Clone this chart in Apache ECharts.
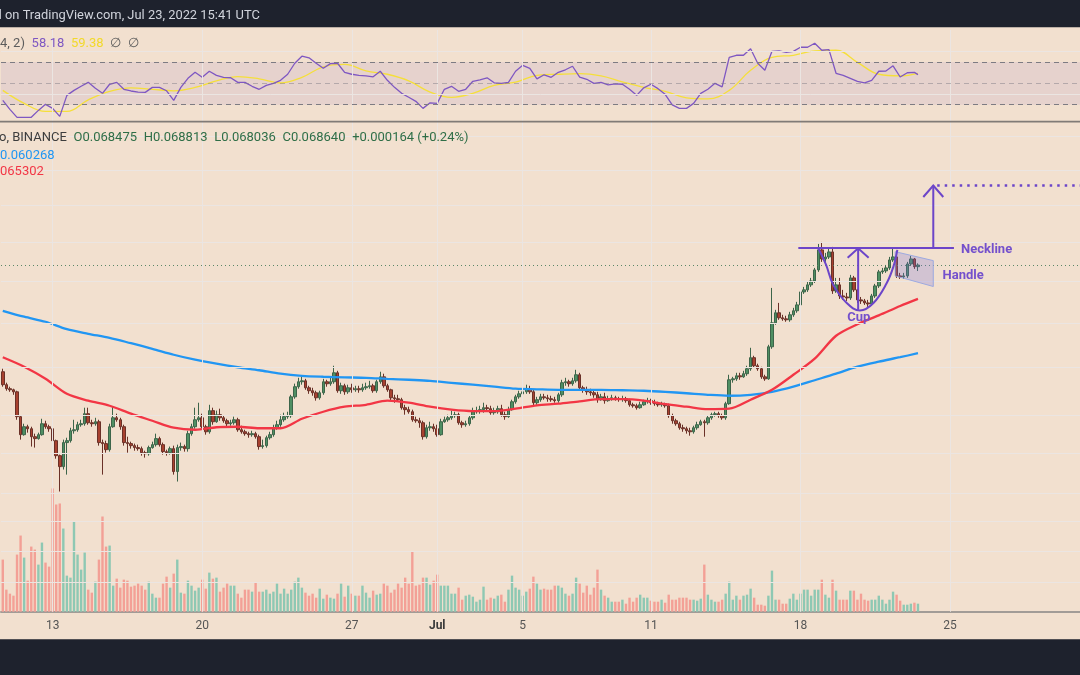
<!DOCTYPE html>
<html><head><meta charset="utf-8">
<script src="https://cdn.jsdelivr.net/npm/echarts@6.0.0/dist/echarts.min.js"></script>
<style>html,body{margin:0;padding:0;background:#1e222d;}#c{width:1080px;height:675px;}</style>
</head><body><div id="c"></div>
<script>
// ETH/BTC 4h, BINANCE — prices in units of 0.0001 BTC
const firstSlotUTC = Date.UTC(2022, 5, 10, 16);
const slotHours = 4;
const slotCount = 303;
const tickDates = ['2022-06-13','2022-06-20','2022-06-27','2022-07-01','2022-07-05','2022-07-11','2022-07-18','2022-07-25'];
const tickLabels = ['13','20','27','Jul','5','11','18','25'];
const priceGridLines = [830,790,750,710,670,630,590,550,520,490,470,450,430];
const rsiLevels = [70,50,30];
const rsiGridLines = [80,40];

// [open, close, low, high]
const candles = [
[586.4,575.3,573.6,589.0],[575.3,571.9,570.2,577.0],[571.9,571.0,569.3,573.6],[571.0,569.3,566.8,571.9],[569.3,548.8,546.3,570.2],
[548.8,534.4,530.5,549.6],[534.4,540.7,533.6,543.1],[540.7,539.1,536.0,542.3],[539.1,532.8,525.1,540.7],[532.8,531.3,524.3,535.2],
[531.3,534.4,530.5,536.0],[534.4,543.1,533.6,547.1],[543.1,540.7,539.1,545.5],[540.7,539.1,536.7,542.3],[539.1,529.7,528.2,540.7],
[529.7,518.1,515.8,530.5],[518.1,509.8,491.4,518.9],[509.8,528.2,507.6,530.5],[528.2,529.7,503.8,532.0],[529.7,537.5,528.2,539.9],
[537.5,538.3,535.2,546.3],[538.3,542.3,536.7,544.7],[542.3,543.1,540.7,546.3],[543.1,551.2,541.5,556.1],[551.2,543.9,542.3,556.1],
[543.9,543.1,540.7,546.3],[543.1,544.7,541.5,547.9],[544.7,528.2,525.8,546.3],[528.2,527.4,503.8,530.5],[527.4,522.7,520.4,529.7],
[522.7,540.7,521.2,543.1],[540.7,547.9,539.9,556.9],[547.9,546.3,544.7,551.2],[546.3,540.7,538.3,547.9],[540.7,528.2,525.8,542.3],
[528.2,527.4,520.4,532.8],[527.4,525.8,523.5,528.9],[525.8,524.3,521.9,527.4],[524.3,523.5,521.9,526.6],[523.5,520.4,518.1,525.1],
[520.4,519.6,516.6,521.9],[519.6,524.3,518.1,525.8],[524.3,526.6,523.5,528.9],[526.6,531.3,525.1,535.2],[531.3,526.6,525.1,532.8],
[526.6,521.2,518.9,528.2],[521.2,520.4,518.1,522.7],[520.4,523.5,518.9,525.1],[523.5,506.1,503.8,525.8],[506.1,524.3,498.7,526.6],
[524.3,525.1,521.9,528.2],[525.1,523.5,521.2,526.6],[523.5,535.2,521.2,537.5],[535.2,540.7,533.6,543.1],[540.7,546.3,539.1,556.1],
[546.3,547.9,544.7,560.2],[547.9,540.7,538.3,551.2],[540.7,536.7,534.4,542.3],[536.7,553.7,535.2,558.5],[553.7,544.7,542.3,556.1],
[544.7,550.4,543.9,553.7],[550.4,547.9,545.5,555.3],[547.9,545.5,543.9,549.6],[545.5,543.1,540.7,547.1],[543.1,543.9,541.5,546.3],
[543.9,546.3,542.3,548.8],[546.3,538.3,536.7,547.9],[538.3,536.7,535.2,541.5],[536.7,535.2,533.6,538.3],[535.2,534.4,532.0,536.7],
[534.4,535.2,532.8,537.5],[535.2,532.8,531.3,536.7],[532.8,525.1,522.7,534.4],[525.1,525.8,523.5,530.5],[525.8,532.0,524.3,533.6],
[532.0,534.4,530.5,536.7],[534.4,539.9,532.8,542.3],[539.9,542.3,538.3,545.5],[542.3,546.3,540.7,550.4],[546.3,548.8,544.7,552.0],
[548.8,549.6,547.1,552.8],[549.6,565.1,547.9,566.8],[565.1,573.6,563.5,576.2],[573.6,577.8,571.9,581.2],[577.8,578.6,575.3,583.0],
[578.6,572.7,571.0,580.3],[572.7,570.2,567.6,574.4],[570.2,568.5,566.0,572.7],[568.5,564.3,561.9,570.2],[564.3,568.5,562.7,570.2],
[568.5,577.8,566.8,580.3],[577.8,576.1,573.6,579.5],[576.1,577.8,574.4,581.2],[577.8,585.5,576.1,591.6],[585.5,570.2,568.5,587.2],
[570.2,574.4,567.6,577.0],[574.4,569.3,566.8,576.1],[569.3,572.7,567.6,575.3],[572.7,571.0,568.5,576.1],[571.0,571.9,569.3,574.4],
[571.9,571.0,568.5,574.4],[571.0,572.7,569.3,576.1],[572.7,573.6,571.0,577.0],[573.6,574.4,571.9,578.6],[574.4,570.2,568.5,576.1],
[570.2,577.8,568.5,579.5],[577.8,582.0,576.1,586.4],[582.0,574.4,572.7,584.7],[574.4,571.0,569.3,576.1],[571.0,564.3,561.9,571.9],
[564.3,563.5,560.2,566.8],[563.5,562.7,561.0,566.8],[562.7,556.1,554.5,564.3],[556.1,554.5,550.4,558.5],[554.5,552.8,551.2,556.9],
[552.8,546.3,544.7,554.5],[546.3,545.5,543.9,548.8],[545.5,543.9,539.9,547.9],[543.9,532.8,530.5,545.5],[532.8,539.9,531.3,542.3],
[539.9,540.7,537.5,544.7],[540.7,539.1,536.7,543.1],[539.1,534.4,532.8,542.3],[534.4,544.7,533.6,547.1],[544.7,546.3,543.9,548.8],
[546.3,547.9,544.7,550.4],[547.9,549.6,546.3,553.7],[549.6,550.4,547.9,552.8],[550.4,543.9,542.3,552.0],[543.9,542.3,539.9,545.5],
[542.3,543.1,540.7,545.5],[543.1,547.9,541.5,549.6],[547.9,552.8,546.3,556.1],[552.8,553.7,551.2,556.9],[553.7,554.5,551.2,557.7],
[554.5,556.1,552.0,560.2],[556.1,555.3,552.8,558.5],[555.3,552.0,550.4,557.7],[552.0,552.8,550.4,556.1],[552.8,555.3,551.2,557.7],
[555.3,550.4,548.8,558.5],[550.4,548.8,546.3,552.8],[548.8,554.5,547.9,556.9],[554.5,561.0,553.7,562.7],[561.0,565.1,559.4,566.8],
[565.1,567.6,563.5,570.2],[567.6,569.3,566.0,572.7],[569.3,571.9,567.6,575.3],[571.9,569.3,567.6,574.4],[569.3,560.2,557.7,571.0],
[560.2,562.7,558.5,565.1],[562.7,565.1,561.0,567.6],[565.1,564.3,562.7,567.6],[564.3,563.5,561.0,566.8],[563.5,562.7,561.0,566.0],
[562.7,561.9,560.2,565.1],[561.9,566.8,560.2,568.5],[566.8,577.0,565.1,579.5],[577.0,577.8,574.4,581.2],[577.8,576.1,573.6,579.5],
[576.1,578.6,574.4,581.2],[578.6,583.8,577.0,588.1],[583.8,572.7,571.0,585.5],[572.7,571.0,568.5,574.4],[571.0,569.3,566.8,573.6],
[569.3,568.5,566.0,571.9],[568.5,566.8,564.3,570.2],[566.8,562.7,560.2,569.3],[562.7,565.1,561.9,567.6],[565.1,561.9,559.4,568.5],
[561.9,563.5,561.0,566.0],[563.5,564.3,561.9,566.8],[564.3,563.5,561.9,566.0],[563.5,563.1,561.0,565.1],[563.1,563.5,561.0,566.0],
[563.5,561.9,560.2,565.1],[561.9,558.5,556.9,563.5],[558.5,557.7,556.1,560.2],[557.7,556.1,554.5,559.4],[556.1,558.5,555.3,561.0],
[558.5,561.0,557.7,562.7],[561.0,561.9,559.4,564.3],[561.9,560.2,558.5,563.5],[560.2,559.4,557.7,562.7],[559.4,558.5,556.9,561.0],
[558.5,559.4,556.9,561.0],[559.4,557.7,556.1,560.2],[557.7,549.6,547.9,559.4],[549.6,545.5,543.1,551.2],[545.5,543.1,541.5,547.1],
[543.1,539.9,538.3,544.7],[539.9,539.1,536.7,542.3],[539.1,537.5,535.2,540.7],[537.5,536.7,533.6,539.9],[536.7,539.9,535.2,541.5],
[539.9,542.3,538.3,544.7],[542.3,544.7,541.5,546.3],[544.7,543.9,532.8,546.3],[543.9,547.9,542.3,549.6],[547.9,550.4,546.3,552.0],
[550.4,551.2,548.8,552.8],[551.2,549.6,547.9,552.8],[549.6,547.9,546.3,551.2],[547.9,559.4,546.3,561.0],[559.4,579.5,558.5,583.8],
[579.5,580.3,577.0,582.0],[580.3,582.9,578.6,585.5],[582.9,582.0,579.5,585.5],[582.0,584.7,581.2,587.2],[584.7,589.0,582.9,591.6],
[589.0,598.7,587.2,607.5],[598.7,591.6,589.9,600.4],[591.6,589.0,587.2,593.4],[589.0,582.0,580.3,590.7],[582.0,580.3,578.6,583.8],
[580.3,608.4,579.5,610.2],[608.4,630.3,606.6,663.6],[630.3,639.7,628.5,642.5],[639.7,635.0,633.1,649.1],[635.0,634.0,632.2,637.8],
[634.0,633.1,631.3,636.9],[633.1,637.8,631.3,640.6],[637.8,641.6,635.9,644.4],[641.6,647.2,639.7,650.1],[647.2,659.7,645.3,668.5],
[659.7,661.7,657.8,664.6],[661.7,666.6,659.7,669.5],[666.6,670.5,664.6,673.5],[670.5,681.5,668.5,683.5],[681.5,701.9,679.5,708.1],
[701.9,692.6,689.6,710.2],[692.6,694.6,689.6,698.8],[694.6,699.8,692.6,702.9],[699.8,660.7,657.8,705.0],[660.7,666.6,658.8,673.5],
[666.6,655.8,652.9,673.5],[655.8,654.8,652.0,661.7],[654.8,653.9,651.0,658.8],[653.9,673.5,652.0,676.5],[673.5,661.7,659.7,675.5],
[661.7,652.0,649.1,662.7],[652.0,651.0,648.1,654.8],[651.0,649.1,647.2,652.9],[649.1,648.1,645.3,652.0],[648.1,655.8,646.2,657.8],
[655.8,665.6,653.9,667.6],[665.6,679.5,663.6,681.5],[679.5,680.5,677.5,683.5],[680.5,683.5,678.5,686.5],[683.5,691.6,681.5,694.7],
[691.6,694.7,689.6,703.9],[694.7,675.5,673.5,697.8],[675.5,674.5,672.5,678.5],[674.5,675.5,672.5,678.5],[675.5,687.5,673.5,689.6],
[687.5,692.6,685.5,695.7],[692.6,684.75,682.5,693.6],[684.75,686.40,680.36,688.13]
];

// volume (K ETH)
const volumes = [
52,22,18,16,57,76,54,31,65,62,47,69,49,45,123,107,108,83,36,34,
90,57,42,59,22,19,30,52,95,65,66,26,33,24,32,31,25,26,28,26,
22,30,18,14,14,28,35,24,38,52,19,18,31,26,21,24,32,23,39,33,
34,20,24,28,26,26,18,14,22,22,20,29,20,20,22,18,20,28,18,23,
18,22,30,34,24,19,16,18,14,23,13,17,14,13,18,28,15,26,18,16,
16,26,19,14,21,17,18,28,26,19,22,28,24,34,28,60,26,27,34,34,
27,31,37,26,26,26,18,18,24,12,16,17,15,10,12,25,12,14,13,16,
17,10,22,36,24,22,16,20,23,35,28,22,23,22,22,26,26,24,18,16,
18,34,28,19,26,17,24,42,22,16,14,10,10,10,12,8,14,10,14,17,
14,14,11,10,10,12,9,17,12,12,14,14,14,12,12,11,13,47,17,12,
10,10,12,18,30,12,16,12,16,17,23,14,7,7,6,16,41,12,12,8,
8,13,18,12,18,22,22,16,22,22,32,17,14,32,21,12,12,12,21,21,
12,18,12,11,12,12,16,12,8,12,20,17,11,7,7,8,9,8
];

// [slot, value]
const rsiPoints = [[0,34.0],[2,25.6],[4,18.1],[6,18.1],[8,18.1],[10,24.6],[12,30.3],[14,26.5],[16,19.0],[18,38.7],[20,43.4],[22,47.2],[24,50.9],[26,45.3],[28,40.6],[30,49.1],[32,50.9],[34,44.4],[36,42.8],[38,41.8],[40,41.5],[42,46.2],[44,46.2],[46,43.0],[48,34.0],[50,46.2],[52,54.7],[54,60.3],[56,55.6],[58,61.3],[60,57.5],[62,55.6],[64,55.2],[66,50.9],[68,50.9],[70,47.2],[72,44.4],[74,48.1],[76,50.0],[78,52.8],[80,58.5],[82,68.8],[84,75.4],[86,73.9],[88,68.8],[90,64.1],[92,68.5],[94,68.8],[96,60.3],[98,58.5],[100,57.5],[102,57.0],[104,56.1],[106,61.3],[108,52.8],[110,46.2],[112,40.6],[114,36.9],[116,33.1],[118,26.5],[120,31.7],[122,31.2],[124,44.4],[126,47.2],[128,42.5],[130,44.4],[132,51.9],[134,53.3],[136,55.2],[138,50.5],[140,50.0],[142,50.9],[144,61.3],[146,66.9],[148,64.1],[150,54.2],[152,58.0],[154,55.6],[156,60.3],[158,62.7],[160,66.0],[162,55.9],[164,53.8],[166,50.0],[168,50.9],[170,48.6],[172,49.5],[174,49.1],[176,44.4],[178,38.7],[180,45.8],[182,49.1],[184,45.0],[186,39.7],[188,29.8],[190,26.5],[192,26.5],[194,31.2],[196,40.6],[198,44.4],[200,50.0],[202,46.7],[204,74.4],[206,76.3],[208,76.3],[210,82.4],[212,68.8],[214,62.2],[216,80.0],[218,80.5],[220,79.1],[222,80.0],[224,83.8],[226,83.8],[228,87.6],[230,81.0],[232,81.6],[234,59.4],[236,57.5],[238,54.7],[240,51.9],[242,50.5],[244,52.8],[246,61.3],[248,61.5],[250,66.4],[252,55.9],[254,59.9],[256,60.3],[257,58.18]];
const rsiMaPoints = [[0,43.4],[6,31.2],[12,23.7],[18,23.7],[24,34.5],[30,42.5],[36,45.8],[42,44.4],[48,43.0],[54,46.2],[60,52.3],[66,56.3],[72,54.2],[78,50.3],[84,55.6],[90,65.5],[96,67.8],[102,61.7],[108,58.5],[114,52.3],[120,41.8],[126,36.9],[132,40.6],[138,48.1],[144,51.2],[150,57.5],[156,58.5],[162,59.1],[168,57.0],[174,51.4],[180,46.2],[186,42.5],[192,36.4],[198,35.4],[204,43.4],[210,62.2],[216,74.4],[222,76.3],[228,80.5],[234,81.0],[240,69.7],[246,58.5],[252,57.0],[257,59.38]];
const ma50Points = [[0,599.1],[6,590.8],[12,580.4],[18,567.6],[24,561.9],[30,557.7],[36,551.2],[42,545.5],[48,539.9],[54,538.3],[60,540.3],[66,540.7],[72,539.5],[78,539.5],[84,547.1],[90,552.8],[96,556.9],[102,558.5],[108,561.9],[114,560.2],[120,556.9],[126,554.5],[132,553.3],[138,553.3],[144,555.3],[150,558.1],[156,559.4],[162,561.4],[168,563.1],[174,563.1],[180,561.9],[186,559.0],[192,556.9],[198,554.9],[204,555.3],[210,562.7],[216,571.0],[222,583.8],[228,597.8],[234,618.4],[240,629.0],[246,637.3],[252,646.2],[257,653.02]];
const ma200Points = [[0,641.6],[6,636.0],[12,631.3],[18,624.4],[24,620.2],[30,616.5],[36,611.6],[42,606.6],[48,601.3],[54,596.9],[60,593.4],[66,590.3],[72,587.7],[78,584.7],[84,582.9],[90,582.1],[96,581.6],[102,581.2],[108,580.3],[114,579.5],[120,578.6],[126,576.9],[132,575.3],[138,573.6],[144,571.9],[150,571.4],[156,571.0],[162,571.0],[168,571.0],[174,570.6],[180,570.2],[186,569.3],[192,568.1],[198,566.8],[204,566.0],[210,566.8],[216,569.3],[222,573.6],[228,579.1],[234,584.7],[240,590.8],[246,595.2],[252,599.1],[257,602.68]];

// pattern drawing anchors: [slot, price]
const necklinePrice = 703.9;
const necklineSpan = [223.4, 267.1];
const targetPrice = 771.9;
const targetArrowSlot = 261.3;
const targetLineSpan = [262.4, 302.5];
const cupCurve = [[229.0,703.6],[231.2,686.5],[233.2,666.6],[237.0,649.0],[240.7,641.8],[244.5,649.0],[248.2,668.2],[250.1,684.8],[251.2,701.9]];
const cupArrow = {slot: 240.2, from: 642.5, to: 703.6};
const handleChannel = [[250.6,700.1],[261.3,690.9],[261.3,665.0],[250.6,675.5]];
const patternLabels = [
  {text:'Neckline', slot:269.1, price:702.4, align:'left'},
  {text:'Handle', slot:263.9, price:675.2, align:'left'},
  {text:'Cup', slot:240.4, price:635.3, align:'center'}
];

const categories = Array.from({length: slotCount}, (_, k) =>
  new Date(firstSlotUTC + k * slotHours * 3600000).toISOString().slice(0, 13));
const tickIdx = tickDates.map(d => categories.indexOf(d + 'T00'));
const tickSet = new Set(tickIdx);

const chart = echarts.init(document.getElementById('c'));
const gridColor = '#ebe5e2';
const upVol = '#8ec8b3', downVol = '#f3a096';
const volumeData = volumes.map((v, i) => ({value: v, itemStyle: {color: candles[i][1] >= candles[i][0] ? upVol : downVol}}));
const vLines = tickIdx.map(i => ({xAxis: categories[i]}));
const quiet = {silent: true, symbol: ['none','none'], label: {show: false}, animation: false};

const option = {
  animation: false,
  backgroundColor: '#f2e0cf',
  textStyle: {fontFamily: 'Roboto, "Noto Sans", sans-serif'},
  grid: [
    {left: 1, right: 0, top: 122, bottom: 63.3, containLabel: false, outerBoundsMode: 'none'},
    {left: 1, right: 0, top: 30, height: 91.7, containLabel: false, outerBoundsMode: 'none'}
  ],
  xAxis: [
    {type: 'category', gridIndex: 0, data: categories, boundaryGap: true,
      axisLine: {show: true, lineStyle: {color: '#a29c97', width: 2}},
      axisTick: {show: false}, splitLine: {show: false},
      axisLabel: {interval: (i) => tickSet.has(i), margin: 8, color: '#555', fontSize: 12,
        formatter: (v, i) => { const k = tickIdx.indexOf(i); const t = k >= 0 ? tickLabels[k] : ''; return /^[A-Z]/.test(t) ? '{b|' + t + '}' : t; },
        rich: {b: {fontWeight: 'bold', color: '#3a3a3a', fontSize: 12}}}},
    {type: 'category', gridIndex: 1, data: categories, boundaryGap: true, show: false}
  ],
  yAxis: [
    {type: 'log', gridIndex: 0, min: 411.55, max: 847.7, show: false},
    {type: 'value', gridIndex: 0, min: 0, max: 488.7, show: false},
    {type: 'value', gridIndex: 1, min: 14, max: 100, show: false}
  ],
  series: [
    {type: 'line', xAxisIndex: 0, yAxisIndex: 0, data: [], z: 0,
      markLine: Object.assign({}, quiet, {lineStyle: {color: gridColor, width: 1, type: 'solid'},
        data: priceGridLines.map(p => ({yAxis: p})).concat(vLines)})},
    {type: 'line', xAxisIndex: 1, yAxisIndex: 2, data: [], z: 0,
      markArea: {silent: true, itemStyle: {color: 'rgba(126,87,194,0.1)'}, data: [[{yAxis: 30}, {yAxis: 70}]]},
      markLine: Object.assign({}, quiet, {lineStyle: {color: gridColor, width: 1, type: 'solid'},
        data: rsiGridLines.map(p => ({yAxis: p})).concat(vLines)})},
    {type: 'bar', xAxisIndex: 0, yAxisIndex: 1, data: volumeData, barWidth: 2.4, z: 1},
    {type: 'candlestick', xAxisIndex: 0, yAxisIndex: 0, data: candles, barWidth: 3, z: 2,
      itemStyle: {color: '#4f8f63', color0: '#a8412f', borderColor: '#3d654a', borderColor0: '#6a3128', borderWidth: 1},
      markLine: Object.assign({}, quiet, {lineStyle: {color: '#4a7d5c', width: 1, type: [1, 3], opacity: 0.9},
        data: [{yAxis: candles[candles.length - 1][1]}]})},
    {type: 'line', xAxisIndex: 0, yAxisIndex: 0, data: ma200Points, showSymbol: false, smooth: 0.3, z: 3,
      lineStyle: {color: '#2196f3', width: 2.3}},
    {type: 'line', xAxisIndex: 0, yAxisIndex: 0, data: ma50Points, showSymbol: false, smooth: 0.3, z: 3,
      lineStyle: {color: '#f23645', width: 2.3}},
    {type: 'line', xAxisIndex: 1, yAxisIndex: 2, data: rsiMaPoints, showSymbol: false, smooth: 0.4, z: 3,
      lineStyle: {color: '#f5df3a', width: 1.3}},
    {type: 'line', xAxisIndex: 1, yAxisIndex: 2, data: rsiPoints, showSymbol: false, z: 4,
      lineStyle: {color: '#7e57c2', width: 1.3},
      markLine: Object.assign({}, quiet, {data: rsiLevels.map(v => ({yAxis: v, lineStyle: {color: v === 50 ? 'rgba(120,118,128,0.45)' : '#7d7b82', width: 1, type: [5, 4]}}))})}
  ]
};
chart.setOption(option);

function toPx(slot, price) {
  const s0 = Math.floor(slot), f = slot - s0;
  const a = chart.convertToPixel({xAxisIndex: 0, yAxisIndex: 0}, [s0, price]);
  const b = chart.convertToPixel({xAxisIndex: 0, yAxisIndex: 0}, [s0 + 1, price]);
  return [a[0] + (b[0] - a[0]) * f, a[1]];
}
const purple = '#6c45c9';
const G = [];
G.push({type: 'rect', shape: {x: 0, y: 0, width: 1080, height: 27.3}, style: {fill: '#1e222d'}, z: 50});
G.push({type: 'rect', shape: {x: 0, y: 639.3, width: 1080, height: 36}, style: {fill: '#1e222d'}, z: 50});
G.push({type: 'rect', shape: {x: 0, y: 120.8, width: 1080, height: 1.6}, style: {fill: '#807b77'}, z: 50});
G.push({type: 'text', x: -5.5, y: 15.5, z: 51, style: {text: 'd on TradingView.com, Jul 23, 2022 15:41 UTC', fill: '#d1d4dc', font: '12.9px Roboto, sans-serif', verticalAlign: 'middle'}});
G.push({type: 'text', x: 0, y: 43.3, z: 51, style: {text: '{g|4, 2)}  {p|58.18}  {y|59.38}  {g|∅}  {g|∅}', verticalAlign: 'middle',
  rich: {g: {fill: '#5c5c5c', fontSize: 13, fontFamily: 'Roboto'}, p: {fill: '#7e57c2', fontSize: 13, fontFamily: 'Roboto'}, y: {fill: '#f2d92a', fontSize: 13, fontFamily: 'Roboto'}}}});
G.push({type: 'text', x: -1, y: 138, z: 51, style: {text: '{k|o, BINANCE}  {v|O0.068475}  {v|H0.068813}  {v|L0.068036}  {v|C0.068640}  {v|+0.000164 (+0.24%)}', verticalAlign: 'middle',
  rich: {k: {fill: '#3d3d3d', fontSize: 13, fontFamily: 'Roboto'}, v: {fill: '#2f6e47', fontSize: 13, fontFamily: 'Roboto'}}}});
G.push({type: 'text', x: 0, y: 155.5, z: 51, style: {text: '0.060268', fill: '#2196f3', font: '13px Roboto', verticalAlign: 'middle'}});
G.push({type: 'text', x: 0, y: 172, z: 51, style: {text: '065302', fill: '#f23645', font: '13px Roboto', verticalAlign: 'middle'}});

// handle channel
G.push({type: 'polygon', z: 20, shape: {points: handleChannel.map(p => toPx(p[0], p[1]))},
  style: {fill: 'rgba(118,112,220,0.26)', stroke: 'rgba(150,165,225,0.9)', lineWidth: 1}});
// neckline
const n0 = toPx(necklineSpan[0], necklinePrice), n1 = toPx(necklineSpan[1], necklinePrice);
G.push({type: 'line', z: 21, shape: {x1: n0[0], y1: n0[1], x2: n1[0], y2: n1[1]}, style: {stroke: purple, lineWidth: 2}});
// target arrow
const t0 = toPx(targetArrowSlot, necklinePrice), t1 = toPx(targetArrowSlot, targetPrice);
G.push({type: 'line', z: 21, shape: {x1: t0[0], y1: t0[1], x2: t1[0], y2: t1[1]}, style: {stroke: purple, lineWidth: 2}});
G.push({type: 'polyline', z: 21, shape: {points: [[t1[0] - 10, t1[1] + 11.5], t1, [t1[0] + 10, t1[1] + 11.5]]}, style: {stroke: purple, lineWidth: 2, fill: 'none'}});
const d0 = toPx(targetLineSpan[0], targetPrice), d1 = toPx(targetLineSpan[1], targetPrice);
G.push({type: 'line', z: 21, shape: {x1: d0[0], y1: d0[1], x2: d1[0], y2: d1[1]}, style: {stroke: purple, lineWidth: 2.5, lineDash: [2.5, 5]}});
// cup
G.push({type: 'polyline', z: 21, shape: {points: cupCurve.map(p => toPx(p[0], p[1])), smooth: 0.4}, style: {stroke: purple, lineWidth: 2, fill: 'none'}});
const c0 = toPx(cupArrow.slot, cupArrow.from), c1 = toPx(cupArrow.slot, cupArrow.to);
G.push({type: 'line', z: 21, shape: {x1: c0[0], y1: c0[1], x2: c1[0], y2: c1[1]}, style: {stroke: purple, lineWidth: 2}});
G.push({type: 'polyline', z: 21, shape: {points: [[c1[0] - 10.5, c1[1] + 9.5], c1, [c1[0] + 10.5, c1[1] + 9.5]]}, style: {stroke: purple, lineWidth: 2, fill: 'none'}});
patternLabels.forEach(l => {
  const p = toPx(l.slot, l.price);
  G.push({type: 'text', x: p[0], y: p[1], z: 22, style: {text: l.text, fill: '#7450cc', font: 'bold 13px Roboto', align: l.align, verticalAlign: 'middle'}});
});
chart.setOption({graphic: G});
</script></body></html>
